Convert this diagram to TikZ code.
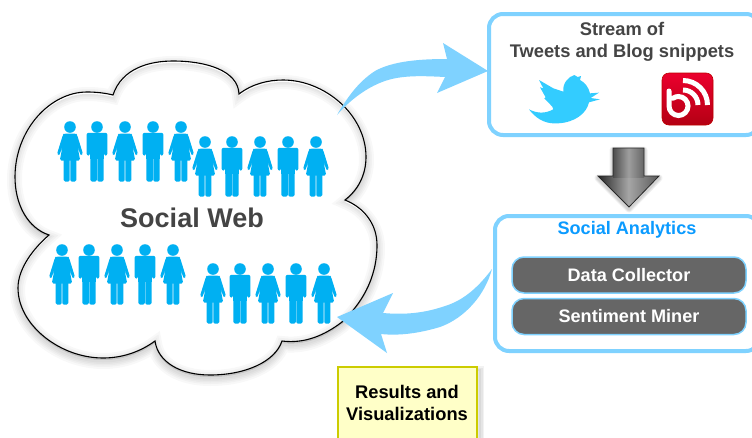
\documentclass[tikz,border=0pt]{standalone}
\usepackage{fontspec}
\setmainfont{Liberation Sans}
\usetikzlibrary{calc}
\definecolor{skyb}{HTML}{7FD2FF}
\definecolor{person}{HTML}{00B0F2}
\definecolor{txt}{HTML}{444444}
\tikzset{
  panel/.style={draw=skyb,line width=4pt,rounded corners=14pt,fill=white,inner sep=0pt},
  pill/.style={draw=skyb,line width=1.5pt,rounded corners=12pt,fill=black!60,text=white,inner sep=0pt,minimum width=234pt,minimum height=36pt,font=\fontsize{18.1}{20}\selectfont\bfseries},
  head/.style={font=\fontsize{18.3}{22.2}\selectfont\bfseries,text=txt,align=center,inner sep=0pt},
  blockarrow/.style={fill=skyb,draw=none},
  woman/.pic={
    \fill[person] (0,0) circle (5.8);
    \fill[person,rounded corners=1.6pt] (-6,6.6)--(6,6.6)--(7,7.6)--(13,27)--(11,29)--(7.6,20)--(10.2,33.5)--(-10.2,33.5)--(-7.6,20)--(-11,29)--(-13,27)--(-7,7.6)--cycle;
    \fill[person,rounded corners=1.4pt] (.3,31)--(6.3,31)--(6.3,54.5)--(.3,54.5)--cycle;
    \fill[person,rounded corners=1.4pt] (-.3,31)--(-6.3,31)--(-6.3,54.5)--(-.3,54.5)--cycle;
  },
  man/.pic={
    \fill[person] (0,0) circle (5.8);
    \fill[person,rounded corners=2pt] (-10.4,5.8)--(10.4,5.8)--(10.4,28.5)--(7,28.5)--(7,13)--(-7,13)--(-7,28.5)--(-10.4,28.5)--cycle;
    \fill[person] (-6.6,10) rectangle (6.6,32);
    \fill[person,rounded corners=1.4pt] (.25,30)--(6.6,30)--(6.6,54.5)--(.25,54.5)--cycle;
    \fill[person,rounded corners=1.4pt] (-.25,30)--(-6.6,30)--(-6.6,54.5)--(-.25,54.5)--cycle;
  },
}
\def\cloudpath{(113,95) .. controls (122,68) and (150,61) .. (173,61) .. controls (205,61) and (238,70) .. (239,94)
 .. controls (252,84) and (268,80) .. (283,80) .. controls (325,80) and (366,115) .. (366,157) .. controls (366,175) and (358,190) .. (345,200)
 .. controls (365,208) and (377,225) .. (377,245) .. controls (377,280) and (360,305) .. (342,322) .. controls (325,335) and (305,344) .. (282,341)
 .. controls (275,362) and (245,375) .. (210,375) .. controls (180,375) and (158,362) .. (155,341)
 .. controls (140,352) and (122,358) .. (103,358) .. controls (60,358) and (18,325) .. (18,288) .. controls (18,268) and (34,248) .. (49,235)
 .. controls (28,228) and (15,205) .. (15,177) .. controls (15,130) and (50,92) .. (87,92) .. controls (96,92) and (105,93) .. (113,95) -- cycle}
\begin{document}
\begin{tikzpicture}[x=1pt,y=-1pt]
\useasboundingbox (0,0) rectangle (752,437);
\begin{scope}
\clip (0,0) rectangle (752,437);
\fill[white] (0,0) rectangle (752,437);

% cloud with soft shadow
\begin{scope}[shift={(0,3)}]
  \foreach \w in {16,12,9,6,3}{\draw[black,opacity=.028,line width=\w pt,line join=round] \cloudpath;}
\end{scope}
\fill[white] \cloudpath;
\begin{scope}[shift={(0,2)}]
  \clip \cloudpath;
  \foreach \w in {14,10,6,3}{\draw[black,opacity=.028,line width=\w pt] \cloudpath;}
\end{scope}
\draw[black,line width=1.1pt,line join=miter] \cloudpath;

% people
\foreach \x/\k in {70/woman,97/man,125/woman,153/man,181/woman}{\pic at (\x,127) {\k};}
\foreach \x/\k in {205/woman,232/man,260/woman,288/man,316/woman}{\pic at (\x,142) {\k};}
\foreach \x/\k in {62/woman,89/man,117/woman,145/man,173/woman}{\pic at (\x,250) {\k};}
\foreach \x/\k in {213/woman,240/man,268/woman,296/man,324/woman}{\pic at (\x,269) {\k};}
\node[font=\fontsize{27}{30}\selectfont\bfseries,text=txt,inner sep=0pt] (web) at (192,218) {Social Web};

% panels
\node[panel,minimum width=271pt,minimum height=121pt] (stream) at (624.5,74.5) {};
\node[head] (streamt) at (622,42) {Stream of\\Tweets and Blog snippets};
\node[panel,minimum width=265pt,minimum height=135pt] (analytics) at (627.5,283.5) {};
\node[font=\fontsize{18.1}{20}\selectfont\bfseries,text={rgb,255:red,11;green,155;blue,255},inner sep=0pt] (analyticst) at (627,230) {Social Analytics};
\node[pill] (collector) at (629,275) {Data Collector};
\node[pill] (miner) at (629,316.5) {Sentiment Miner};

% block arrows, ends named
\coordinate (a1) at (337,115);
\coordinate (a2) at (488,71);
\fill[blockarrow] (a1) .. controls (347,98) and (358,82) .. (375,71) .. controls (393,61) and (420,59) .. (447,59)
  -- (443,43) -- (a2) -- (437,93) -- (445,77) .. controls (425,76) and (405,75) .. (388,80) .. controls (368,86) and (350,100) .. (a1) -- cycle;
\coordinate (b1) at (492,269);
\coordinate (b2) at (337,317);
\fill[blockarrow] (b1) .. controls (480,285) and (465,300) .. (445,306) .. controls (425,313) and (405,315) .. (383,313)
  -- (393,293) -- (b2) -- (387,353) -- (381,334) .. controls (400,336) and (420,333) .. (440,327) .. controls (465,318) and (485,295) .. (b1) -- cycle;

% grey down arrow
\begin{scope}[shift={(0,2)}]
  \foreach \w in {7,5,3}{\draw[black,opacity=.06,line width=\w pt,line join=round] (613,148)--(644,148)--(644,176)--(659,176)--(629,207)--(598,176)--(613,176)--cycle;}
\end{scope}
\path[left color=black!85,right color=black!65,middle color=black!35] (598,176)--(629,207)--(659,176)--cycle;
\path[left color=black!70,right color=black!60,middle color=black!38] (613,148) rectangle (644,177);
\coordinate (d1) at (613,148);
\draw[black!85,line width=.8pt,line join=miter] (d1)--(644,148)--(644,176)--(659,176)--(629,207)--(598,176)--(613,176)--cycle;

% yellow box
\foreach \w in {8,5,2}{\draw[black,opacity=.05,line width=\w pt] (341,370) rectangle (480,450);}
\node[draw={rgb,255:red,204;green,204;blue,0},line width=1.5pt,fill={rgb,255:red,255;green,255;blue,200},minimum width=139pt,minimum height=78pt,inner sep=0pt] (results) at (407.5,406) {};
\node[font=\fontsize{18.3}{21.5}\selectfont\bfseries,align=center,inner sep=0pt,text=black] (resultst) at (407,403) {Results and\\Visualizations};

% twitter bird
\begin{scope}[shift={(525,70)},x=.3333pt,y=-.3333pt]
  \fill[color={rgb,255:red,51;green,204;blue,255}] (12,118) .. controls (40,155) and (70,162) .. (100,160) .. controls (150,157) and (185,130) .. (192,97)
   -- (225,88) -- (197,84) -- (222,68) -- (195,70) .. controls (190,50) and (180,38) .. (165,30) -- (168,18) -- (158,21) -- (148,15)
   .. controls (130,20) and (112,40) .. (115,65) -- (85,55) -- (42,30) -- (55,55) -- (45,52) -- (62,82) -- (58,85) -- (82,110) -- (85,118)
   .. controls (60,132) and (35,130) .. (12,118) -- cycle;
\end{scope}

% blog icon
\shade[top color={rgb,255:red,235;green,0;blue,45},bottom color={rgb,255:red,180;green,0;blue,20},rounded corners=7pt,draw={rgb,255:red,190;green,0;blue,0},line width=.6pt] (662,73) rectangle (713,125);
\draw[white,line width=5pt,line cap=round] (669,91) -- (669,106) arc[start angle=180,end angle=-125,radius=9.5];
\draw[white,line width=5pt] (683,90) arc[start angle=-90,end angle=0,radius=15];
\draw[white,line width=5pt] (683,80.5) arc[start angle=-90,end angle=0,radius=24.5];
\end{scope}
\end{tikzpicture}
\end{document}
